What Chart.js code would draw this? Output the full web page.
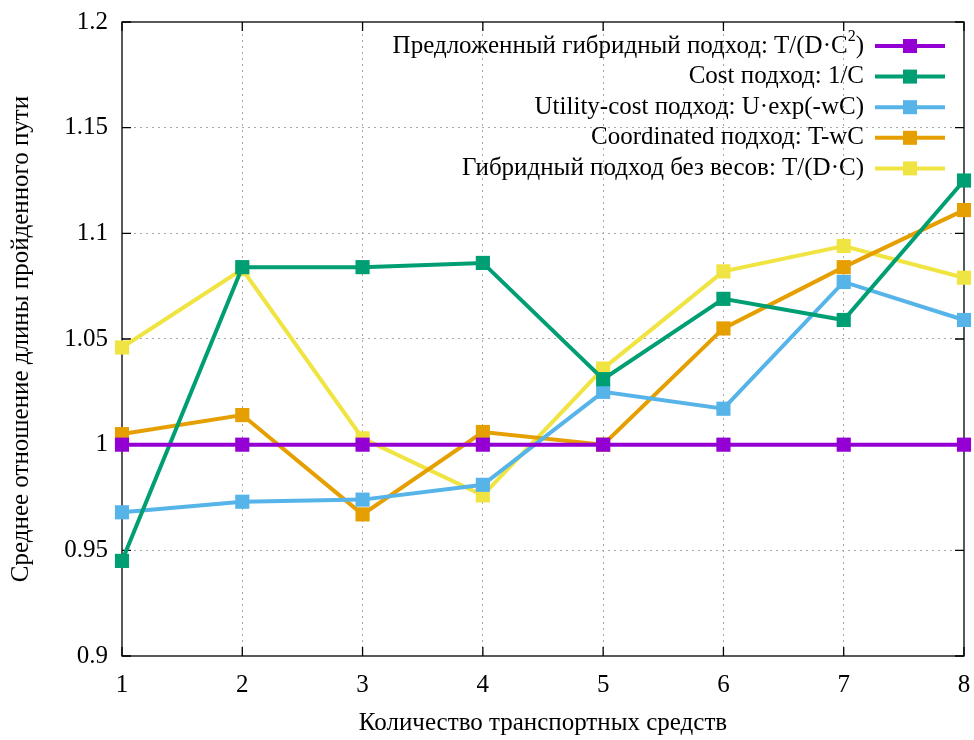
<!DOCTYPE html>
<html><head><meta charset="utf-8">
<script src="https://cdn.jsdelivr.net/npm/chart.js@4/dist/chart.umd.min.js"></script>
<style>html,body{margin:0;padding:0;background:#fff}#wrap{width:974px;height:740px}</style>
</head><body><div id="wrap"><canvas id="c" width="974" height="740"></canvas></div>
<script>
const categories = [1, 2, 3, 4, 5, 6, 7, 8];
const seriesNames = [
  "Предложенный гибридный подход: T/(D·C^2)",
  "Cost подход: 1/C",
  "Utility-cost подход: U·exp(-wC)",
  "Coordinated подход: T-wC",
  "Гибридный подход без весов: T/(D·C)"
];
const hybridValues = [1.0, 1.0, 1.0, 1.0, 1.0, 1.0, 1.0, 1.0];
const costValues = [0.945, 1.084, 1.084, 1.086, 1.031, 1.069, 1.059, 1.125];
const utilityValues = [0.968, 0.973, 0.974, 0.981, 1.025, 1.017, 1.077, 1.059];
const coordValues = [1.005, 1.014, 0.967, 1.006, 1.000, 1.055, 1.084, 1.111];
const noWeightValues = [1.046, 1.083, 1.003, 0.976, 1.036, 1.082, 1.094, 1.079];
const yTicks = [0.9, 0.95, 1, 1.05, 1.1, 1.15, 1.2];
const colors = ["#9400d3", "#009e73", "#56b4e9", "#e69f00", "#f0e442"];
const allValues = [hybridValues, costValues, utilityValues, coordValues, noWeightValues];

const FONT = "'Liberation Serif', 'Times New Roman', serif";

const datasets = allValues.map((vals, i) => ({
  label: seriesNames[i],
  data: categories.map((c, j) => ({ x: c, y: vals[j] })),
  borderColor: colors[i],
  backgroundColor: colors[i],
  borderWidth: 4,
  pointStyle: 'rect',
  pointRadius: 10,
  pointHoverRadius: 10,
  pointBorderWidth: 0,
  tension: 0,
  clip: false
}));

const framePlugin = {
  id: 'frame',
  beforeDatasetsDraw(chart) {
    const {ctx, chartArea: a, scales} = chart;
    ctx.save();
    ctx.strokeStyle = '#000';
    ctx.lineWidth = 1.3;
    ctx.strokeRect(a.left, a.top, a.right - a.left, a.bottom - a.top);
    ctx.beginPath();
    const L = 9;
    yTicks.forEach(v => {
      const y = scales.y.getPixelForValue(v);
      ctx.moveTo(a.left, y); ctx.lineTo(a.left + L, y);
      ctx.moveTo(a.right, y); ctx.lineTo(a.right - L, y);
    });
    categories.forEach(c => {
      const x = scales.x.getPixelForValue(c);
      ctx.moveTo(x, a.bottom); ctx.lineTo(x, a.bottom - L);
      ctx.moveTo(x, a.top); ctx.lineTo(x, a.top + L);
    });
    ctx.stroke();
    ctx.restore();
  },
  afterDraw(chart) {
    const {ctx} = chart;
    ctx.save();
    const textRight = 864;
    const lineX0 = 875, lineX1 = 945;
    const rowY0 = 46, rowStep = 30.6;
    const FS = 25;
    ctx.textBaseline = 'middle';
    seriesNames.forEach((name, i) => {
      const y = rowY0 + i * rowStep;
      ctx.fillStyle = '#000';
      const parts = name.split('^');
      if (parts.length === 2) {
        const sup = parts[1].charAt(0);
        const tail = parts[1].slice(1);
        ctx.font = FS + 'px ' + FONT;
        const wTail = ctx.measureText(tail).width;
        const wHead = ctx.measureText(parts[0]).width;
        ctx.font = '16px ' + FONT;
        const wSup = ctx.measureText(sup).width;
        let x = textRight - wTail - wSup - wHead;
        ctx.textAlign = 'left';
        ctx.font = FS + 'px ' + FONT;
        ctx.fillText(parts[0], x, y);
        x += wHead;
        ctx.font = '16px ' + FONT;
        ctx.fillText(sup, x, y - 9);
        x += wSup;
        ctx.font = FS + 'px ' + FONT;
        ctx.fillText(tail, x, y);
      } else {
        ctx.font = FS + 'px ' + FONT;
        ctx.textAlign = 'right';
        ctx.fillText(name, textRight, y);
      }
      ctx.strokeStyle = colors[i];
      ctx.lineWidth = 4;
      ctx.beginPath();
      ctx.moveTo(lineX0, y); ctx.lineTo(lineX1, y);
      ctx.stroke();
      ctx.fillStyle = colors[i];
      ctx.fillRect((lineX0 + lineX1) / 2 - 7, y - 7, 14, 14);
    });
    ctx.restore();
  }
};

new Chart(document.getElementById('c'), {
  type: 'line',
  data: { datasets: datasets },
  options: {
    responsive: false,
    animation: false,
    devicePixelRatio: 1,
    layout: { padding: { top: 22, right: 10, left: 0, bottom: 0 } },
    plugins: { legend: { display: false }, tooltip: { enabled: false } },
    scales: {
      x: {
        type: 'linear',
        min: 1, max: 8,
        afterBuildTicks: s => { s.ticks = categories.map(v => ({ value: v })); },
        afterFit: s => { s.height = 84; s.paddingLeft = 0; s.paddingRight = 0; },
        grid: {
          drawTicks: false,
          color: ctx => (ctx.tick && (ctx.tick.value === 1 || ctx.tick.value === 8)) ? 'rgba(0,0,0,0)' : '#a8a8a8',
          lineWidth: 1
        },
        border: { display: false, dash: [2, 4] },
        ticks: { color: '#000', font: { family: FONT, size: 25 }, padding: 14, maxRotation: 0, autoSkip: false },
        title: { display: true, text: 'Количество транспортных средств', color: '#000', font: { family: FONT, size: 25 }, padding: { top: 0, bottom: 2 } }
      },
      y: {
        min: 0.9, max: 1.2,
        afterBuildTicks: s => { s.ticks = yTicks.map(v => ({ value: v })); },
        afterFit: s => { s.width = 122; s.paddingTop = 0; s.paddingBottom = 0; },
        grid: {
          drawTicks: false,
          color: ctx => (ctx.tick && (ctx.tick.value === 0.9 || ctx.tick.value === 1.2)) ? 'rgba(0,0,0,0)' : '#a8a8a8',
          lineWidth: 1
        },
        border: { display: false, dash: [2, 4] },
        ticks: { color: '#000', font: { family: FONT, size: 25 }, padding: 14, autoSkip: false, callback: v => String(v) },
        title: { display: true, text: 'Среднее отношение длины пройденного пути', color: '#000', font: { family: FONT, size: 25 }, padding: { top: 6, bottom: 0 } }
      }
    }
  },
  plugins: [framePlugin]
});
</script>
</body></html>
